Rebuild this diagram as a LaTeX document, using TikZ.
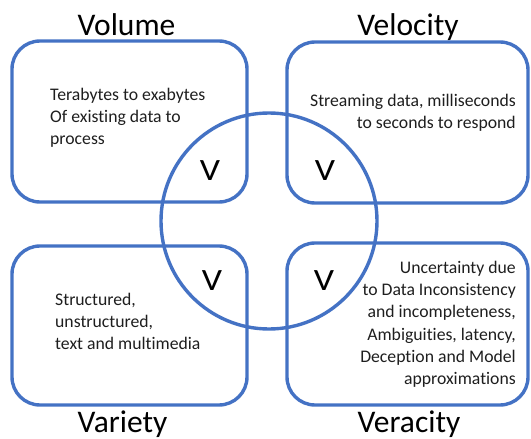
\documentclass[tikz,border=0pt]{standalone}
\usepackage{fontspec}
\setmainfont{Carlito}[Ligatures=NoCommon]
\definecolor{vblue}{RGB}{68,114,196}
\definecolor{vtext}{RGB}{30,30,30}
\begin{document}
\begin{tikzpicture}[x=1pt,y=-1pt,
  vbox/.style={draw=vblue,line width=3.4pt,rounded corners=28pt,inner sep=0pt},
  title/.style={font=\fontsize{31.5}{36}\selectfont,text=black,inner sep=0pt,anchor=base},
  bigv/.style={font=\fontsize{31}{36}\selectfont,text=black,inner sep=0pt,anchor=base,xscale=1.15},
  body/.style={font=\fontsize{17.7}{22.2}\selectfont,text=vtext,inner sep=0pt}]
\useasboundingbox (0,0) rectangle (531,439);
% the four quadrant boxes
\node[vbox,minimum width=235pt,minimum height=161pt] (vol) at (129.5,121.5) {};
\node[vbox,minimum width=241pt,minimum height=161pt] (vel) at (407.5,122.5) {};
\node[vbox,minimum width=235pt,minimum height=159pt] (var) at (129.5,325.5) {};
\node[vbox,minimum width=241pt,minimum height=162pt] (ver) at (407.5,324) {};
% central circle
\node[draw=vblue,line width=3.4pt,circle,minimum size=216pt,inner sep=0pt] (core) at (269,221) {};
% titles
\node[title] (tvol) at (126.5,35) {Volume};
\node[title] (tvel) at (408,35) {Velocity};
\node[title] (tvar) at (122.5,432) {Variety};
\node[title] (tver) at (409,432) {Veracity};
% the V in each overlap
\node[bigv] (v1) at (210,180) {V};
\node[bigv] (v2) at (325,180) {V};
\node[bigv] (v3) at (212,290) {V};
\node[bigv] (v4) at (324,290) {V};
% descriptions (anchored on the baseline of their last line)
\node[body,align=left,anchor=base west] (dvol) at (50,144.4)
  {Terabytes to exabytes\\Of existing data to\\process};
\node[body,align=right,anchor=base east] (dvel) at (516,128.2)
  {Streaming data, milliseconds\\to seconds to respond};
\node[body,align=left,anchor=base west] (dvar) at (55,349.4)
  {Structured,\\unstructured,\\text and multimedia};
\node[body,align=right,anchor=base east] (dver) at (516,384.5)
  {Uncertainty due\\to Data Inconsistency\\and incompleteness,\\Ambiguities, latency,\\Deception and Model\\approximations};
\end{tikzpicture}
\end{document}
